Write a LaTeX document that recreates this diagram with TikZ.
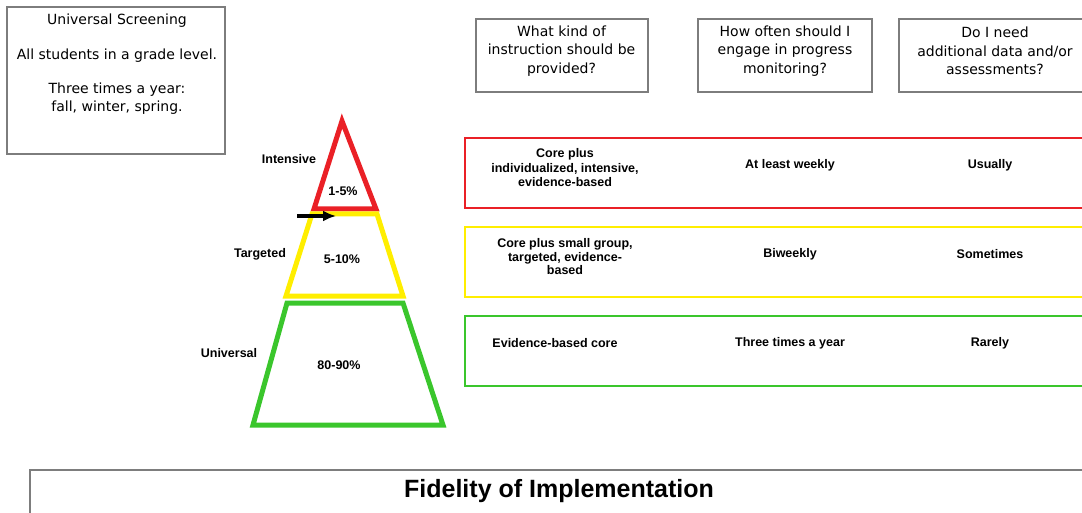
\documentclass[tikz,border=0pt]{standalone}
\usepackage{fontspec}
\setmainfont{Liberation Sans}
\newfontfamily\qfont{DejaVu Sans}
\usetikzlibrary{arrows.meta,positioning}
\definecolor{tierred}{RGB}{234,32,38}
\definecolor{tieryellow}{RGB}{255,238,0}
\definecolor{tiergreen}{RGB}{58,198,44}
\definecolor{boxgray}{RGB}{125,125,125}

\begin{document}
\begin{tikzpicture}[x=1pt,y=-1pt,
    qbox/.style={rectangle, draw=boxgray, line width=1.2pt, inner sep=0pt},
    qtext/.style={align=center, font=\qfont\fontsize{14}{18.5}\selectfont, inner sep=0pt},
    rowbox/.style={rectangle, line width=1.6pt, inner sep=0pt, minimum width=620, minimum height=70},
    cell/.style={align=center, font=\bfseries\fontsize{12.5}{14.5}\selectfont, inner sep=0pt},
    tier/.style={line width=5pt, line join=miter},
    arrow/.style={-{Latex[length=13pt,width=11pt]}, line width=3.5pt}]

\useasboundingbox (0,0) rectangle (1082,513);

% Screening and questions
\node[qbox, minimum width=218, minimum height=147] (screen) at (116,80.5) {};
\node[qtext, font=\qfont\fontsize{14}{17.5}\selectfont] (screentext) at (117,64) {Universal Screening\\[17pt]All students in a grade level.\\[17pt]Three times a year:\\fall, winter, spring.};
\node[qbox, minimum width=172, minimum height=73] (qkind) at (562,55.5) {};
\node[qbox, minimum width=174, minimum height=73] (qoften) at (785,55.5) {};
\node[qbox, minimum width=186, minimum height=73] (qdata) at (992,55.5) {};
\node[qtext] (qkindtext) at (561.5,51) {What kind of\\instruction should be\\provided?};
\node[qtext] (qoftentext) at (785,51) {How often should I\\engage in progress\\monitoring?};
\node[qtext] (qdatatext) at (995,51) {Do I need\\additional data and/or\\assessments?};

% Pyramid
\draw[tier, tierred] (342,121) -- (376,209) -- (314,209) -- cycle;
\draw[tier, tieryellow] (312,214) -- (377,214) -- (403,296) -- (286,296) -- cycle;
\draw[tier, tiergreen] (287,303) -- (403,303) -- (443,425) -- (253,425) -- cycle;
\node[cell] (intensive) at (289,159) {Intensive};
\node[cell] (targeted) at (260,254) {Targeted};
\node[cell] (universal) at (229,353) {Universal};
\node[cell] (pintensive) at (343,191) {1-5\%};
\node[cell] (ptargeted) at (342,259) {5-10\%};
\node[cell] (puniversal) at (339,365) {80-90\%};
\coordinate (arrowtail) at (297,216);
\coordinate (arrowtip) at (336,216);
\draw[arrow] (arrowtail) -- (arrowtip);

% Rows
\node[rowbox, draw=tierred] (redrow) at (775,173) {};
\node[rowbox, draw=tieryellow] (yellowrow) at (775,262) {};
\node[rowbox, draw=tiergreen] (greenrow) at (775,351) {};

\node[cell] (redkind) at (565,168) {Core plus\\individualized, intensive,\\evidence-based};
\node[cell] (redoften) at (790,165) {At least weekly};
\node[cell] (reddata) at (990,165) {Usually};
\node[cell, font=\bfseries\fontsize{12.5}{13.5}\selectfont] (yellowkind) at (565,257) {Core plus small group,\\targeted, evidence-\\based};
\node[cell] (yellowoften) at (790,254) {Biweekly};
\node[cell] (yellowdata) at (990,254) {Sometimes};
\node[cell] (greenkind) at (555,343) {Evidence-based core};
\node[cell] (greenoften) at (790,343) {Three times a year};
\node[cell] (greendata) at (990,343) {Rarely};

% Fidelity
\node[qbox, minimum width=1055, minimum height=60] (fidelity) at (557.5,500) {};
\node[font=\bfseries\fontsize{25}{28}\selectfont, inner sep=0pt] (fidtitle) at (559,491) {Fidelity of Implementation};
\end{tikzpicture}
\end{document}
